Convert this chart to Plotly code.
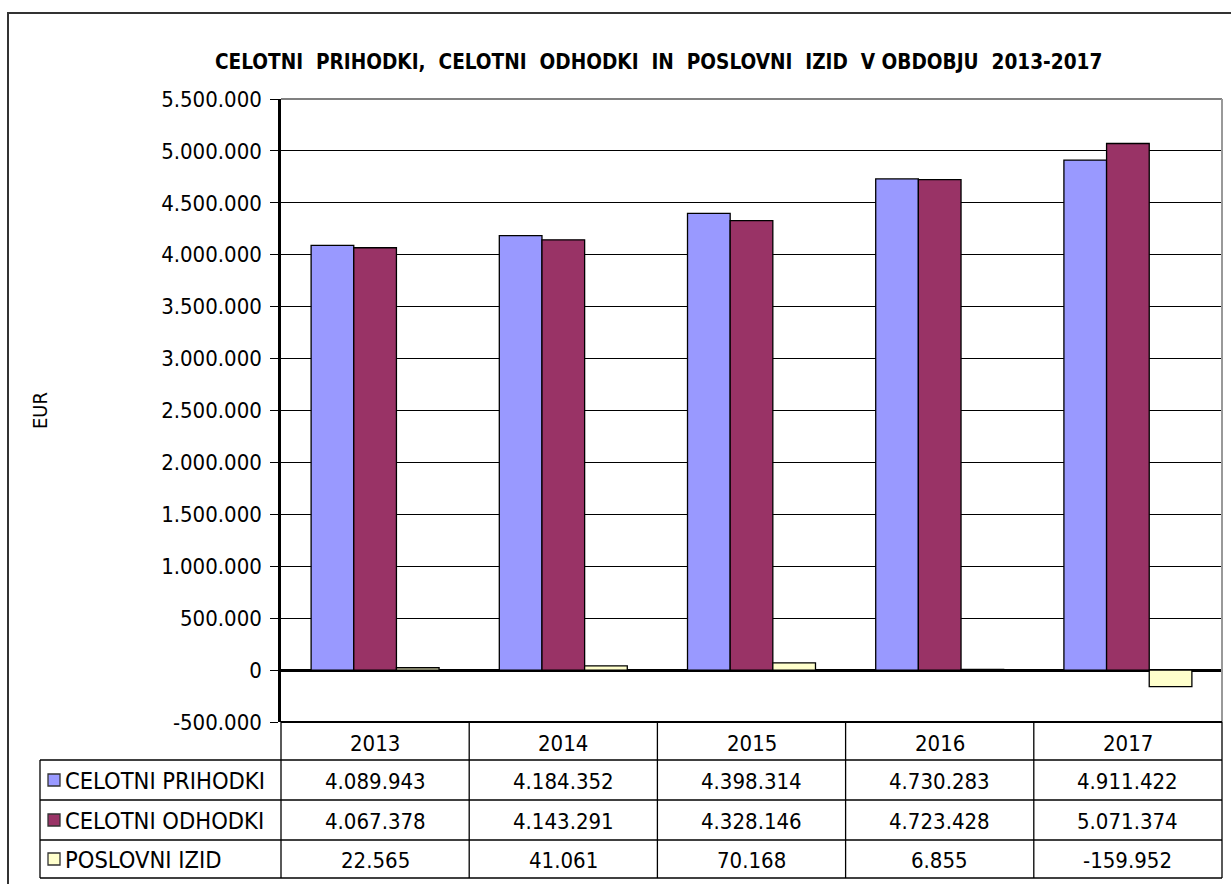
import plotly.graph_objects as go

# ---- data ----
years = ["2013", "2014", "2015", "2016", "2017"]
series_names = ["CELOTNI PRIHODKI", "CELOTNI ODHODKI", "POSLOVNI IZID"]
prihodki = [4089943, 4184352, 4398314, 4730283, 4911422]
odhodki = [4067378, 4143291, 4328146, 4723428, 5071374]
izid = [22565, 41061, 70168, 6855, -159952]
colors = ["#9999FF", "#993366", "#FFFFCC"]
y_ticks = [-500000, 0, 500000, 1000000, 1500000, 2000000, 2500000, 3000000,
           3500000, 4000000, 4500000, 5000000, 5500000]
title_text = "CELOTNI  PRIHODKI,  CELOTNI  ODHODKI  IN  POSLOVNI  IZID  V OBDOBJU  2013-2017"
y_title = "EUR"

W, H = 1231, 884
FONT = "DejaVu Sans Condensed, Tahoma, sans-serif"
FS = 22


def fmt(v):
    s = f"{abs(v):,}".replace(",", ".")
    return ("-" if v < 0 else "") + s


def px(x):
    return x / W


def py(y):
    return 1 - y / H


# plot area in pixels
PL, PR, PT, PB = 281, 1222, 99, 722
row_edges = [722, 760, 800, 840, 878]
label_left = 40

fig = go.Figure()
all_series = [prihodki, odhodki, izid]
for name, vals, col in zip(series_names, all_series, colors):
    fig.add_trace(go.Bar(x=years, y=vals, name=name, marker=dict(color=col, line=dict(color="black", width=1.3))))

fig.update_layout(
    width=W, height=H, autosize=False,
    margin=dict(l=0, r=0, t=0, b=0, autoexpand=False),
    paper_bgcolor="white", plot_bgcolor="white",
    barmode="group", bargap=0.32, bargroupgap=0,
    showlegend=False,
    font=dict(family=FONT, color="black", size=FS),
    xaxis=dict(domain=[px(PL), px(PR)], showticklabels=False, showgrid=False, automargin=False,
               zeroline=False, showline=False, ticks="", fixedrange=True),
    yaxis=dict(domain=[py(PB), py(PT)], range=[-500000, 5500000], automargin=False,
               tickvals=y_ticks, ticktext=[fmt(v) for v in y_ticks],
               ticks="outside", ticklen=8, tickcolor="black", tickwidth=1,
               showgrid=True, gridcolor="black", gridwidth=1,
               zeroline=True, zerolinecolor="black", zerolinewidth=2.5,
               showline=True, linecolor="black", linewidth=2.5,
               tickfont=dict(size=FS, family=FONT), ticklabelstandoff=4, fixedrange=True),
)

shapes = []
annotations = []

# outer chart border
shapes.append(dict(type="rect", xref="paper", yref="paper", x0=px(8), x1=px(1245),
                   y0=py(13), y1=py(900), line=dict(color="#333333", width=2), layer="above"))
# plot area top/right border (gray)
shapes.append(dict(type="line", xref="paper", yref="paper", x0=px(PL), x1=px(PR), y0=py(PT), y1=py(PT),
                   line=dict(color="#808080", width=2), layer="above"))
shapes.append(dict(type="line", xref="paper", yref="paper", x0=px(PR), x1=px(PR), y0=py(PT), y1=py(PB),
                   line=dict(color="#999999", width=2), layer="above"))

# table
ncat = len(years)
cw = (PR - PL) / ncat
col_edges = [PL + cw * i for i in range(ncat + 1)]
shapes.append(dict(type="line", xref="paper", yref="paper", x0=px(PL), x1=px(PR), y0=py(row_edges[0]), y1=py(row_edges[0]),
                   line=dict(color="black", width=2), layer="above"))
for ye in row_edges[1:]:
    shapes.append(dict(type="line", xref="paper", yref="paper", x0=px(label_left), x1=px(PR), y0=py(ye), y1=py(ye),
                       line=dict(color="black", width=1.3), layer="above"))
shapes.append(dict(type="line", xref="paper", yref="paper", x0=px(label_left), x1=px(label_left),
                   y0=py(row_edges[1]), y1=py(row_edges[-1]), line=dict(color="black", width=1.3), layer="above"))
for xe in col_edges:
    shapes.append(dict(type="line", xref="paper", yref="paper", x0=px(xe), x1=px(xe),
                       y0=py(row_edges[0]), y1=py(row_edges[-1]), line=dict(color="black", width=1.3), layer="above"))

for i, yr in enumerate(years):
    annotations.append(dict(xref="paper", yref="paper", x=px((col_edges[i] + col_edges[i + 1]) / 2),
                            y=py((row_edges[0] + row_edges[1]) / 2 + 2), text=yr, showarrow=False,
                            xanchor="center", yanchor="middle", font=dict(size=FS, family=FONT)))
for r, (name, vals, col) in enumerate(zip(series_names, all_series, colors)):
    yc = (row_edges[r + 1] + row_edges[r + 2]) / 2
    shapes.append(dict(type="rect", xref="paper", yref="paper", x0=px(48), x1=px(60),
                       y0=py(yc - 6), y1=py(yc + 6), fillcolor=col,
                       line=dict(color="#333333", width=1.3), layer="above"))
    annotations.append(dict(xref="paper", yref="paper", x=px(63), y=py(yc + 1), text=name, showarrow=False,
                            xanchor="left", yanchor="middle", font=dict(size=23.5, family=FONT)))
    for i, v in enumerate(vals):
        annotations.append(dict(xref="paper", yref="paper", x=px((col_edges[i] + col_edges[i + 1]) / 2),
                                y=py(yc + 1), text=fmt(v), showarrow=False,
                                xanchor="center", yanchor="middle", font=dict(size=FS, family=FONT)))

annotations.append(dict(xref="paper", yref="paper", x=px(658), y=py(62), text="<b>" + title_text + "</b>",
                        showarrow=False, xanchor="center", yanchor="middle",
                        font=dict(size=20.6, family=FONT)))
annotations.append(dict(xref="paper", yref="paper", x=px(40), y=py(410), text=y_title, textangle=-90,
                        showarrow=False, xanchor="center", yanchor="middle", font=dict(size=20, family=FONT)))

fig.update_layout(shapes=shapes, annotations=annotations)

fig.write_html("out.html", config={"displayModeBar": False},
               post_script="document.body.style.margin='0';document.body.style.overflow='hidden';")
